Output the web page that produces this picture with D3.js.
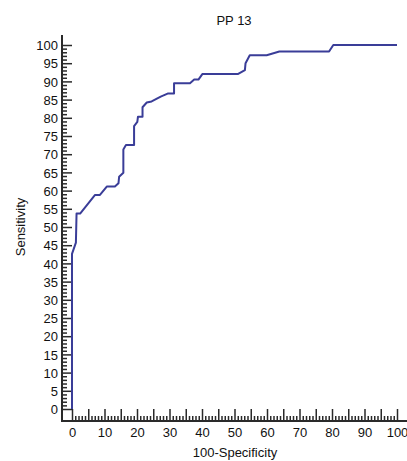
<!DOCTYPE html>
<html>
<head>
<meta charset="utf-8">
<script src="https://cdn.jsdelivr.net/npm/d3@7"></script>
<style>
  html, body { margin: 0; padding: 0; background: #fff; }
  svg { display: block; }
  text { font-family: "Liberation Sans", Arial, sans-serif; fill: #111; }
</style>
</head>
<body>
<svg id="chart" width="407" height="461"></svg>
<script>
// ROC curve points (100-Specificity, Sensitivity)
const fpr = [0, 0, 1.2, 1.4, 2.5, 7.1, 8.6, 10.7, 13.2, 14.3, 14.5, 15.8, 15.8, 16.6, 19.1, 19.1, 20.1, 20.3, 21.7, 21.7, 23.0, 24.5, 27.3, 29.6, 31.4, 31.4, 36.3, 37.6, 38.9, 40.1, 51.0, 53.2, 53.4, 54.7, 59.9, 63.8, 79.1, 80.4, 100];
const sens = [0, 42.6, 45.7, 53.7, 53.7, 58.8, 58.8, 61.1, 61.1, 62.0, 63.8, 64.9, 71.3, 72.5, 72.5, 77.7, 78.9, 80.3, 80.3, 82.9, 84.2, 84.5, 85.8, 86.7, 86.7, 89.5, 89.5, 90.5, 90.5, 92.0, 92.0, 93.1, 95.0, 97.2, 97.2, 98.2, 98.2, 100, 100];
const yTickLabels = d3.range(0, 101, 5);
const xTickLabels = d3.range(0, 101, 10);
const title = "PP 13";
const xTitle = "100-Specificity";
const yTitle = "Sensitivity";

const svg = d3.select("#chart");
const x = d3.scaleLinear().domain([0, 100]).range([72, 397]);
const y = d3.scaleLinear().domain([0, 100]).range([409, 45]);

const axisColor = "#2a2a2a";
const axisX0 = 62, axisY0 = 421;

// Y axis minor ticks
const gyMinor = svg.append("g").attr("transform", `translate(${axisX0},0)`)
  .call(d3.axisLeft(y).tickValues(d3.range(0, 101, 1).filter(v => v % 5 !== 0)).tickSize(-5).tickFormat(""));
// Y axis major ticks
const gy = svg.append("g").attr("transform", `translate(${axisX0},0)`)
  .call(d3.axisLeft(y).tickValues(yTickLabels).tickSize(-10).tickPadding(4));
// X axis minor ticks
const gxMinor = svg.append("g").attr("transform", `translate(0,${axisY0})`)
  .call(d3.axisBottom(x).tickValues(d3.range(0, 101, 1).filter(v => v % 5 !== 0)).tickSize(-5).tickFormat(""));
// X axis major ticks (every 5, labels every 10)
const gx = svg.append("g").attr("transform", `translate(0,${axisY0})`)
  .call(d3.axisBottom(x).tickValues(d3.range(0, 101, 5)).tickSize(-12).tickPadding(7)
    .tickFormat(d => xTickLabels.includes(d) ? d : ""));

[gyMinor, gy, gxMinor, gx].forEach(g => {
  g.select(".domain").remove();
  g.selectAll(".tick line").attr("stroke", axisColor).attr("stroke-width", 1.5);
  g.selectAll(".tick text").attr("font-size", 13).attr("fill", "#111")
    .attr("font-family", "'Liberation Sans', Arial, sans-serif");
});
gx.selectAll(".tick text").attr("dy", "0.72em");
gy.selectAll(".tick text").attr("dy", "0.36em");

// Axis lines
svg.append("line").attr("x1", axisX0).attr("x2", axisX0).attr("y1", 35).attr("y2", axisY0 + 1)
  .attr("stroke", axisColor).attr("stroke-width", 2);
svg.append("line").attr("x1", axisX0 - 1).attr("x2", 407).attr("y1", axisY0).attr("y2", axisY0)
  .attr("stroke", axisColor).attr("stroke-width", 2);

// ROC curve
const line = d3.line().x((d, i) => x(fpr[i])).y((d, i) => y(sens[i]));
svg.append("path").datum(fpr).attr("d", line)
  .attr("fill", "none").attr("stroke", "#3a3d98").attr("stroke-width", 2)
  .attr("stroke-linejoin", "round");

// Titles
svg.append("text").attr("x", 234).attr("y", 25).attr("text-anchor", "middle")
  .attr("font-size", 13).text(title);
svg.append("text").attr("x", 235).attr("y", 457).attr("text-anchor", "middle")
  .attr("font-size", 13).text(xTitle);
svg.append("text").attr("transform", "translate(25,227) rotate(-90)").attr("text-anchor", "middle")
  .attr("font-size", 13).text(yTitle);
</script>
</body>
</html>
